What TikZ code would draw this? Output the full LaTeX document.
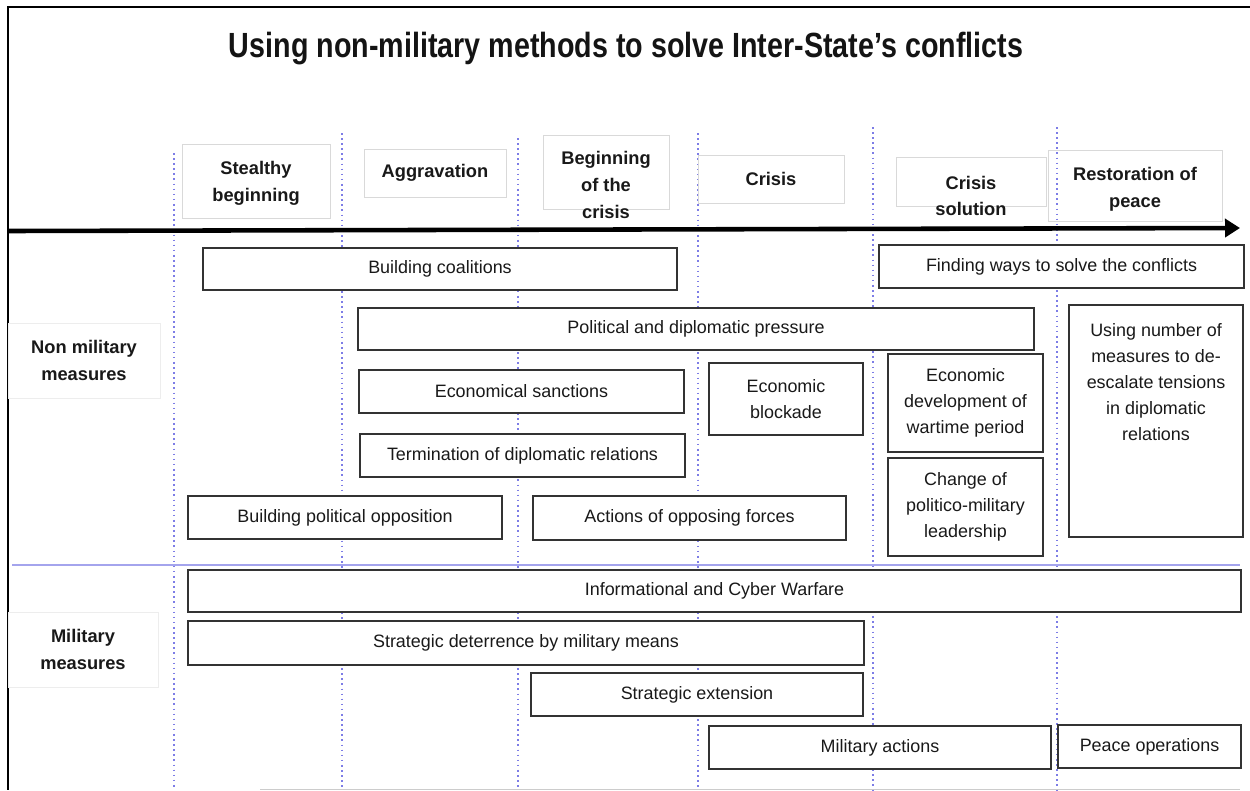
\documentclass[tikz,border=0pt]{standalone}
\usepackage{fontspec}
\setmainfont{Liberation Sans}
\newfontfamily\titlefont[FakeStretch=0.82]{Liberation Sans}
\usepackage{tikz}
\usetikzlibrary{positioning}
\usetikzlibrary{calc}
\usetikzlibrary{arrows.meta}

\definecolor{phaseline}{RGB}{125,125,230}

\tikzset{sz/.style 2 args={minimum width=#1*0.2mm, minimum height=#2*0.2mm}}

\begin{document}
\begin{tikzpicture}[
x=0.2mm, y=-0.2mm, % one unit is one pixel of the layout
measurenode/.style={
    rectangle,
    draw=black!80,
    fill=white,
    line width=1pt,
    text=black!90,
    align=center,
    font=\fontsize{10.2}{14.8}\selectfont,
    inner sep=0pt, % No inner spacing
},
phasenode/.style={
    rectangle,
    draw=black!15,
    thin,
    text=black!90,
    align=center,
    font=\bfseries\fontsize{10.4}{15.2}\selectfont,
    inner sep=0pt,
},
rownode/.style={
    phasenode,
    draw=black!7,
},
textnode/.style={
    align=center,
    inner sep=0pt,
},
]

\fill[white] (0,0) rectangle (1250,790);
\useasboundingbox (0,0) rectangle (1250,790);

% frame
\draw[line width=1.4pt] (1250,7) -- (8,7) -- (8,790);
\draw[black!20, thin] (260,789) -- (1240,789);

\node[font=\titlefont\bfseries\fontsize{19.9}{24}\selectfont, text=black!92, anchor=base] (title) at (626,57)
    {Using non-military methods to solve Inter-State’s conflicts};

% phase borders
\foreach \px/\py in {174/153, 342/133, 518/138, 698/133, 873/127, 1057/127}
    \draw[phaseline, dotted, line width=0.9pt] (\px,\py) -- (\px,790);
\draw[phaseline!70, line width=0.7pt] (12,565) -- (1240,565);

\node[phasenode, sz={148}{74}] (stealthy) at (256,181) {};
\node[phasenode, draw=none] (stealthyt) at (256,183) {Stealthy\\beginning};
\node[phasenode, sz={142}{48}] (aggr) at (435,173) {Aggravation};
\node[phasenode, sz={126}{74}] (begcr) at (606,172) {};
\node[phasenode, draw=none, sz={126}{74}] (begcrt) at (606,185) {Beginning\\of the\\crisis};
\node[phasenode, sz={146}{48}] (crisis) at (771,179) {Crisis};
\node[phasenode, sz={150}{49}] (crsol) at (971,181.5) {};
\node[phasenode, draw=none] (crsolt) at (971,196) {Crisis\\solution};
\node[phasenode, sz={174}{71}] (restor) at (1135,186) {};
\node[phasenode, draw=none] (restort) at (1135,189) {Restoration of\\peace};

\coordinate (tstart) at (8,231);
\coordinate (tend) at (1240,228);
\draw[line width=2.6pt, -{Triangle[length=3mm, width=3.6mm]}] (tstart) -- (tend);

\node[rownode, sz={152}{75}] (nonmil) at (84,360.5) {Non military\\measures};
\node[rownode, sz={150}{75}] (milit) at (83,649.5) {Military\\measures};

% non military measures
\node[measurenode, sz={474}{42}] (coal) at (440,269) {Building coalitions};
\node[measurenode, sz={365}{43}] (findways) at (1061.5,266.5) {Finding ways to solve the conflicts};
\node[measurenode, sz={676}{42}] (polit) at (696,329) {Political and diplomatic pressure};
\node[measurenode, sz={174}{232}] (usingnum) at (1156,421) {};
\node[textnode, anchor=north, font=\fontsize{10.2}{14.8}\selectfont, text=black!90] (usingnumt) at ($(usingnum.north)+(0,19)$)
    {Using number of\\measures to de-\\escalate tensions\\in diplomatic\\relations};
\node[measurenode, sz={325}{43}] (econsanc) at (521.5,391.5) {Economical sanctions};
\node[measurenode, sz={154}{72}] (blockade) at (786,399) {Economic\\blockade};
\node[measurenode, sz={155}{98}] (econdev) at (965.5,403) {Economic\\development of\\wartime period};
\node[measurenode, sz={325}{43}] (termin) at (522.5,455.5) {Termination of diplomatic relations};
\node[measurenode, sz={155}{98}] (leader) at (965.5,507) {Change of\\politico-military\\leadership};
\node[measurenode, sz={314}{43}] (opposit) at (345,517.5) {Building political opposition};
\node[measurenode, sz={313}{44}] (opforces) at (689.5,518) {Actions of opposing forces};

% military measures
\node[measurenode, sz={1053}{42}] (cyber) at (714.5,591) {Informational and Cyber Warfare};
\node[measurenode, sz={676}{44}] (deter) at (526,643) {Strategic deterrence by military means};
\node[measurenode, sz={332}{43}] (stratext) at (697,694.5) {Strategic extension};
\node[measurenode, sz={342}{43}] (milact) at (880,747.5) {Military actions};
\node[measurenode, sz={183}{43}] (peace) at (1149.5,746.5) {Peace operations};

\end{tikzpicture}
\end{document}
